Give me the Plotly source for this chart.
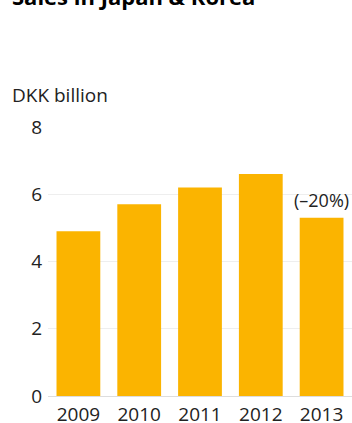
import plotly.graph_objects as go

years = ["2009", "2010", "2011", "2012", "2013"]
sales = [4.9, 5.7, 6.2, 6.6, 5.3]
y_ticks = [0, 2, 4, 6, 8]
change_label = "(–20%)"
title_text = "Sales in Japan & Korea"
unit_text = "DKK billion"

FONT = "Open Sans, Noto Sans, sans-serif"
TXT = "#222222"

fig = go.Figure()
fig.add_trace(go.Bar(x=years, y=sales, marker=dict(color="#FBB400", line=dict(width=0)),
                     hoverinfo="skip"))

fig.add_annotation(x=len(years) - 1, y=sales[-1], xref="x", yref="y", text=change_label,
                   showarrow=False, yanchor="bottom", yshift=4,
                   font=dict(family=FONT, size=18, color=TXT))
fig.add_annotation(x=0, y=1.119, xref="paper", yref="paper", xshift=-38, text=unit_text,
                   showarrow=False, xanchor="left", yanchor="middle",
                   font=dict(family=FONT, size=19, color=TXT))
fig.add_annotation(x=0, y=1.446, xref="paper", yref="paper", xshift=-38, yshift=-6,
                   text="<b>" + title_text + "</b>",
                   showarrow=False, xanchor="left", yanchor="bottom",
                   font=dict(family=FONT, size=22, color="#000000"))

fig.update_layout(
    width=352, height=423,
    margin=dict(l=48, r=0, t=127, b=27, pad=0, autoexpand=False),
    paper_bgcolor="white", plot_bgcolor="white",
    bargap=0.28, showlegend=False,
    font=dict(family=FONT, size=19, color=TXT),
    xaxis=dict(type="category", range=[-0.5, 4.5], showgrid=False, showline=True,
               linecolor="#dddddd", linewidth=1, ticks="", ticklabelstandoff=1,
               automargin=False, tickfont=dict(size=19, color=TXT)),
    yaxis=dict(range=[0, 8], tickvals=y_ticks, showgrid=True, gridcolor="#eeeeee",
               gridwidth=1, zeroline=False, showline=False, ticks="",
               ticklabelstandoff=5, automargin=False, tickfont=dict(size=19, color=TXT)),
)

fig.write_html("out.html", config={"displayModeBar": False},
               post_script="document.body.style.margin='0';")
